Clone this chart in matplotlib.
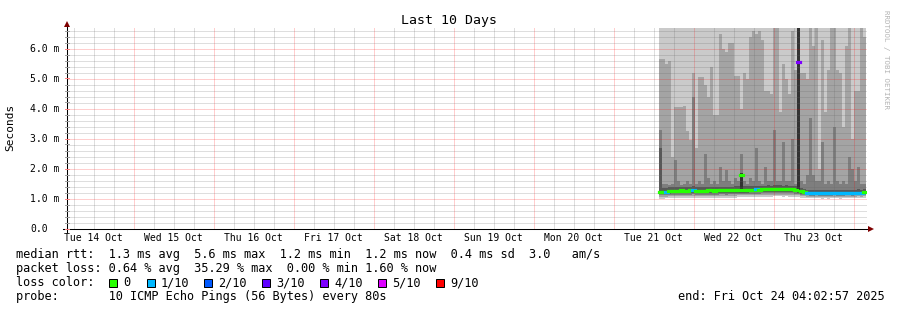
import matplotlib
matplotlib.use("Agg")
import matplotlib.pyplot as plt
import matplotlib.dates as mdates
from matplotlib.patches import Rectangle
from matplotlib.lines import Line2D
import numpy as np
from datetime import datetime, timedelta

W, H, DPI = 897, 310, 100
MONO = "DejaVu Sans Mono"

# ---------------- data ----------------
view_start = datetime(2025, 10, 14, 4, 2, 57)
view_end = datetime(2025, 10, 24, 4, 2, 57)
first_step = datetime(2025, 10, 21, 13, 30)
step_minutes = 54

median_ms = [1.22, 1.22, 1.22, 1.24, 1.25, 1.26, 1.26, 1.27, 1.26, 1.25,
             1.27, 1.29, 1.25, 1.26, 1.25, 1.26, 1.27, 1.27, 1.26, 1.27,
             1.28, 1.28, 1.27, 1.28, 1.28, 1.29, 1.29, 1.77, 1.29, 1.29,
             1.30, 1.30, 1.31, 1.30, 1.31, 1.31, 1.32, 1.31, 1.32, 1.32,
             1.33, 1.31, 1.32, 1.31, 1.31, 1.30, 5.55, 1.24, 1.23, 1.19,
             1.18, 1.18, 1.19, 1.18, 1.17, 1.18, 1.17, 1.18, 1.19, 1.18,
             1.17, 1.18, 1.19, 1.19, 1.18, 1.19, 1.20, 1.19, 1.21]

loss_class = [0, 0, 1, 0, 0, 0, 0, 0, 0, 0,
              0, 1, 0, 0, 0, 0, 0, 0, 0, 0,
              0, 0, 0, 0, 0, 0, 0, 0, 0, 0,
              0, 0, 1, 0, 0, 0, 0, 0, 0, 0,
              0, 0, 0, 0, 0, 0, 4, 0, 0, 1,
              1, 1, 1, 1, 1, 1, 1, 1, 1, 1,
              1, 1, 1, 1, 1, 1, 1, 1, 0]

# sorted ping rtts (ms) per step: ping1 = fastest ... ping10 = slowest
ping1 = [0.99, 0.99, 1.00, 1.01, 1.01, 1.01, 1.02, 1.02, 1.01, 1.01,
         1.02, 1.03, 1.01, 1.01, 1.01, 1.02, 1.02, 1.02, 1.01, 1.02,
         1.03, 1.03, 1.02, 1.03, 1.03, 1.03, 1.04, 1.04, 1.04, 1.04,
         1.05, 1.05, 1.05, 1.05, 1.06, 1.06, 1.06, 1.06, 1.07, 1.07,
         1.07, 1.06, 1.07, 1.06, 1.06, 1.05, 1.05, 1.03, 1.02, 1.01,
         1.00, 1.00, 1.01, 1.00, 0.99, 1.00, 0.99, 1.00, 1.01, 1.00,
         0.99, 1.00, 1.01, 1.01, 1.00, 1.01, 1.02, 1.01, 1.03]
ping2 = [1.05, 1.05, 1.06, 1.07, 1.07, 1.07, 1.08, 1.08, 1.07, 1.07,
         1.08, 1.09, 1.07, 1.07, 1.07, 1.08, 1.08, 1.08, 1.07, 1.08,
         1.09, 1.09, 1.08, 1.09, 1.09, 1.09, 1.10, 1.10, 1.10, 1.10,
         1.11, 1.11, 1.11, 1.11, 1.12, 1.12, 1.12, 1.12, 1.13, 1.13,
         1.13, 1.12, 1.13, 1.12, 1.12, 1.11, 1.10, 1.08, 1.07, 1.06,
         1.05, 1.05, 1.06, 1.05, 1.04, 1.05, 1.04, 1.05, 1.06, 1.05,
         1.04, 1.05, 1.06, 1.06, 1.05, 1.06, 1.07, 1.06, 1.08]
ping3 = [1.10, 1.10, 1.11, 1.12, 1.12, 1.12, 1.13, 1.13, 1.12, 1.12,
         1.13, 1.14, 1.12, 1.12, 1.12, 1.13, 1.13, 1.13, 1.12, 1.13,
         1.14, 1.14, 1.13, 1.14, 1.14, 1.14, 1.15, 1.15, 1.15, 1.15,
         1.16, 1.16, 1.16, 1.16, 1.17, 1.17, 1.17, 1.17, 1.18, 1.18,
         1.18, 1.17, 1.18, 1.17, 1.17, 1.16, 1.14, 1.12, 1.11, 1.10,
         1.09, 1.09, 1.10, 1.09, 1.08, 1.09, 1.08, 1.09, 1.10, 1.09,
         1.08, 1.09, 1.10, 1.10, 1.09, 1.10, 1.11, 1.10, 1.12]
ping4 = [1.15, 1.15, 1.15, 1.16, 1.17, 1.17, 1.17, 1.18, 1.17, 1.17,
         1.18, 1.19, 1.17, 1.17, 1.17, 1.17, 1.18, 1.18, 1.17, 1.18,
         1.19, 1.19, 1.18, 1.19, 1.19, 1.19, 1.20, 1.20, 1.20, 1.20,
         1.21, 1.21, 1.21, 1.21, 1.22, 1.22, 1.22, 1.22, 1.23, 1.23,
         1.23, 1.22, 1.23, 1.22, 1.22, 1.21, 1.18, 1.16, 1.15, 1.13,
         1.12, 1.12, 1.13, 1.12, 1.11, 1.12, 1.11, 1.12, 1.13, 1.12,
         1.11, 1.12, 1.13, 1.13, 1.12, 1.13, 1.14, 1.13, 1.15]
ping5 = [1.18, 1.18, 1.18, 1.20, 1.21, 1.22, 1.22, 1.23, 1.22, 1.21,
         1.23, 1.25, 1.21, 1.22, 1.21, 1.22, 1.23, 1.23, 1.22, 1.23,
         1.24, 1.24, 1.23, 1.24, 1.24, 1.25, 1.25, 1.30, 1.25, 1.25,
         1.26, 1.26, 1.27, 1.26, 1.27, 1.27, 1.28, 1.27, 1.28, 1.28,
         1.29, 1.27, 1.28, 1.27, 1.27, 1.26, 1.22, 1.20, 1.19, 1.16,
         1.15, 1.15, 1.16, 1.15, 1.14, 1.15, 1.14, 1.15, 1.16, 1.15,
         1.14, 1.15, 1.16, 1.16, 1.15, 1.16, 1.17, 1.16, 1.18]
ping6 = [1.25, 1.25, 1.25, 1.27, 1.28, 1.29, 1.29, 1.30, 1.29, 1.28,
         1.30, 1.32, 1.28, 1.29, 1.28, 1.29, 1.30, 1.30, 1.29, 1.30,
         1.31, 1.31, 1.30, 1.31, 1.31, 1.32, 1.32, 1.85, 1.32, 1.32,
         1.33, 1.33, 1.34, 1.33, 1.34, 1.34, 1.35, 1.34, 1.35, 1.35,
         1.36, 1.34, 1.35, 1.34, 1.34, 1.33, 9.50, 1.27, 1.26, 1.22,
         1.21, 1.21, 1.22, 1.21, 1.20, 1.21, 1.20, 1.21, 1.22, 1.21,
         1.20, 1.21, 1.22, 1.22, 1.21, 1.22, 1.23, 1.22, 1.24]
ping7 = [2.70, 1.36, 1.36, 1.37, 1.38, 1.38, 1.38, 1.39, 1.38, 1.37,
         1.38, 1.42, 1.37, 1.38, 1.37, 1.38, 1.39, 1.39, 1.38, 1.39,
         1.40, 1.40, 1.39, 1.40, 1.40, 1.41, 1.41, 1.85, 1.41, 1.41,
         1.42, 1.42, 1.43, 1.42, 1.43, 1.43, 1.44, 1.43, 1.44, 1.44,
         1.45, 1.43, 1.44, 1.43, 1.43, 1.42, 9.60, 1.34, 1.33, 1.29,
         1.28, 1.28, 1.29, 1.28, 1.27, 1.28, 1.27, 1.28, 1.29, 1.28,
         1.27, 1.28, 1.29, 1.29, 1.28, 1.29, 1.30, 1.29, 1.31]
ping8 = [3.30, 1.50, 1.50, 1.45, 1.50, 2.30, 1.60, 1.45, 1.50, 1.60,
         1.50, 4.40, 1.50, 1.60, 1.50, 2.50, 1.70, 1.50, 1.60, 1.50,
         2.05, 1.60, 1.95, 1.60, 1.50, 1.70, 1.60, 2.50, 1.60, 1.50,
         1.70, 1.60, 2.70, 1.60, 1.50, 2.05, 1.60, 1.60, 3.30, 1.60,
         1.60, 2.90, 1.60, 1.60, 3.00, 1.50, 9.70, 1.60, 1.50, 1.80,
         3.70, 1.80, 1.60, 1.60, 2.90, 1.50, 1.60, 1.50, 3.40, 1.60,
         1.50, 1.60, 1.50, 2.40, 2.00, 1.60, 2.05, 1.50, 1.50]
ping9 = [5.65, 5.65, 5.50, 5.60, 2.40, 4.05, 4.05, 4.05, 4.10, 3.25,
         2.95, 5.20, 2.70, 5.05, 5.05, 4.80, 4.40, 5.40, 3.80, 3.80,
         6.50, 6.00, 5.90, 6.20, 6.20, 5.10, 5.10, 4.00, 5.20, 5.00,
         6.40, 6.60, 6.50, 6.60, 6.30, 4.60, 4.60, 4.50, 6.80, 6.80,
         3.90, 5.50, 5.00, 4.50, 6.60, 5.30, 9.80, 5.20, 5.20, 5.00,
         6.80, 6.10, 6.80, 2.00, 6.30, 3.90, 5.30, 6.80, 6.80, 5.30,
         5.20, 3.40, 6.10, 6.80, 3.00, 4.60, 4.60, 6.80, 6.40]
ping10 = [7.5, 7.5, 7.5, 7.5, 7.5, 7.5, 7.5, 7.5, 7.5, 7.5,
          7.5, 7.5, 7.5, 7.5, 7.5, 7.5, 7.5, 7.5, 7.5, 7.5,
          7.5, 7.5, 7.5, 7.5, 7.5, 7.5, 7.5, 7.5, 7.5, 7.5,
          7.5, 7.5, 7.5, 7.5, 7.5, 7.5, 7.5, 7.5, 7.5, 7.5,
          7.5, 7.5, 7.5, 7.5, 7.5, 7.5, 10.0, 7.5, 7.5, 7.5,
          7.5, 7.5, 7.5, 7.5, 7.5, 7.5, 7.5, 7.5, 7.5, 7.5,
          7.5, 7.5, 7.5, 7.5, 7.5, 7.5, 7.5, 7.5, 7.5]

loss_labels = ["0", "1/10", "2/10", "3/10", "4/10", "5/10", "9/10"]
loss_colors = ["#26ff00", "#00b8ff", "#0059ff", "#5e00ff", "#7e00ff", "#dd00ff", "#ff0000"]
smoke_colors = ["#cacaca", "#a4a4a4", "#7e7e7e", "#585858", "#323232"]

day_labels = ["Tue 14 Oct", "Wed 15 Oct", "Thu 16 Oct", "Fri 17 Oct", "Sat 18 Oct",
              "Sun 19 Oct", "Mon 20 Oct", "Tue 21 Oct", "Wed 22 Oct", "Thu 23 Oct"]
y_values = [0, 1, 2, 3, 4, 5, 6]
y_labels = ["0.0", "1.0 m", "2.0 m", "3.0 m", "4.0 m", "5.0 m", "6.0 m"]

title_text = "Last 10 Days"
y_title = "Seconds"
watermark = "RRDTOOL / TOBI OETIKER"
line_median = "median rtt:  1.3 ms avg  5.6 ms max  1.2 ms min  1.2 ms now  0.4 ms sd  3.0   am/s"
line_loss = "packet loss: 0.64 % avg  35.29 % max  0.00 % min 1.60 % now"
line_color = "loss color:"
line_probe = "probe:       10 ICMP Echo Pings (56 Bytes) every 80s"
line_end = "end: Fri Oct 24 04:02:57 2025"

# ---------------- figure ----------------
fig = plt.figure(figsize=(W / DPI, H / DPI), dpi=DPI)
fig.patch.set_facecolor("white")

def fx(px):
    return px / W

def fy(py):
    return 1 - py / H

ax_left, ax_right = 67.0, 867.0
ax_top, ax_bottom = 27.5, 228.5
ax = fig.add_axes([fx(ax_left), fy(ax_bottom), (ax_right - ax_left) / W, (ax_bottom - ax_top) / H])
ax.set_facecolor("white")
for s in ax.spines.values():
    s.set_visible(False)

x0 = mdates.date2num(view_start)
x1 = mdates.date2num(view_end)
ax.set_xlim(x0, x1)
ax.set_ylim(0, (ax_bottom - ax_top) / 30.0)

n = len(median_ms)
edges = mdates.date2num([first_step + timedelta(minutes=step_minutes * k) for k in range(n + 1)])

pings = [np.array(p, dtype=float) for p in
         (ping1, ping2, ping3, ping4, ping5, ping6, ping7, ping8, ping9, ping10)]
for i in range(5):
    lo = pings[i]
    hi = pings[9 - i]
    ax.fill_between(edges, np.append(lo, lo[-1]), np.append(hi, hi[-1]), step="post",
                    color=smoke_colors[i], linewidth=0, zorder=1 + i * 0.01)

# grid (drawn over the smoke)
red = (1.0, 0.0, 0.0, 0.38)
gray = (0.4, 0.4, 0.4, 0.42)
dot = (0, (1, 1))
t = view_start.replace(hour=0, minute=0, second=0) + timedelta(hours=6)
while t <= view_end:
    xv = mdates.date2num(t)
    if t > view_start:
        if t.hour == 0:
            ax.axvline(xv, color=red, lw=0.72, ls=dot, zorder=3)
        else:
            ax.axvline(xv, color=gray, lw=0.72, ls=dot, zorder=3)
    t += timedelta(hours=6)
for j in range(1, 34):
    v = j * 0.2
    if j % 5 == 0:
        ax.axhline(v, color=red, lw=0.72, ls=dot, zorder=3)
    else:
        ax.axhline(v, color=gray, lw=0.72, ls=dot, zorder=3)

# median line, coloured by loss
med = ax.hlines(median_ms, edges[:-1], edges[1:], colors=[loss_colors[c] for c in loss_class],
                linewidth=2.3, zorder=4)
med.set_capstyle("projecting")

# ticks
noon = mdates.date2num([datetime(2025, 10, 14 + i, 12) for i in range(len(day_labels))])
ax.set_xticks(noon)
ax.set_xticklabels(day_labels, fontfamily=MONO, fontsize=7.05)
ax.tick_params(axis="x", which="major", length=0, pad=3.0)
ax.set_yticks(y_values)
ax.set_yticklabels(y_labels, fontfamily=MONO, fontsize=7.05, ha="left")
ax.tick_params(axis="y", which="major", length=0, pad=26.6)

# axis lines and arrows
axis_col = "#000000"
fig.add_artist(Line2D([fx(66.5), fx(66.5)], [fy(231.5), fy(23)], color=axis_col, lw=0.75,
                      transform=fig.transFigure))
fig.add_artist(Line2D([fx(63), fx(869)], [fy(228.5), fy(228.5)], color=axis_col, lw=0.75,
                      transform=fig.transFigure))
fig.add_artist(Line2D([fx(66.5)], [fy(23.5)], marker="^", markersize=4.2, color="#7f0000",
                      markeredgewidth=0, transform=fig.transFigure))
fig.add_artist(Line2D([fx(870.5)], [fy(228.5)], marker=">", markersize=4.2, color="#7f0000",
                      markeredgewidth=0, transform=fig.transFigure))
# small tick marks along axes
for j in range(0, 34):
    yy = ax_bottom - j * 6
    col = "#ff8080" if j % 5 == 0 else "#a0a0a0"
    fig.add_artist(Line2D([fx(64.5), fx(68.5)], [fy(yy), fy(yy)], color=col, lw=0.7,
                          transform=fig.transFigure))

# texts
fig.text(fx(448.5), fy(24), title_text, fontfamily=MONO, fontsize=9.5, ha="center", va="baseline")
fig.text(fx(10.5), fy(127), y_title, fontfamily=MONO, fontsize=8.0, rotation=90,
         ha="center", va="center")
fig.text(fx(886), fy(59), watermark, fontfamily=MONO, fontsize=5.4, rotation=270,
         ha="center", va="center", color="#b4b4b4")

LEG_FS = 8.6
fig.text(fx(15.5), fy(258), line_median, fontfamily=MONO, fontsize=LEG_FS, va="baseline")
fig.text(fx(15.5), fy(272), line_loss, fontfamily=MONO, fontsize=LEG_FS, va="baseline")
fig.text(fx(15.5), fy(286), line_color, fontfamily=MONO, fontsize=LEG_FS, va="baseline")
fig.text(fx(15.5), fy(300), line_probe, fontfamily=MONO, fontsize=LEG_FS, va="baseline")
fig.text(fx(677.5), fy(300), line_end, fontfamily=MONO, fontsize=LEG_FS, va="baseline")

sq_left = [108, 146, 203, 261, 319, 377, 435]
for xl, lab, colr in zip(sq_left, loss_labels, loss_colors):
    fig.add_artist(Rectangle((fx(xl + 0.5), fy(286.5)), 8 / W, 8 / H, facecolor=colr,
                             edgecolor="black", lw=0.72, transform=fig.transFigure))
    fig.text(fx(xl + 15), fy(286), lab, fontfamily=MONO, fontsize=LEG_FS, va="baseline")

fig.savefig("out.png", dpi=DPI, facecolor="white")
